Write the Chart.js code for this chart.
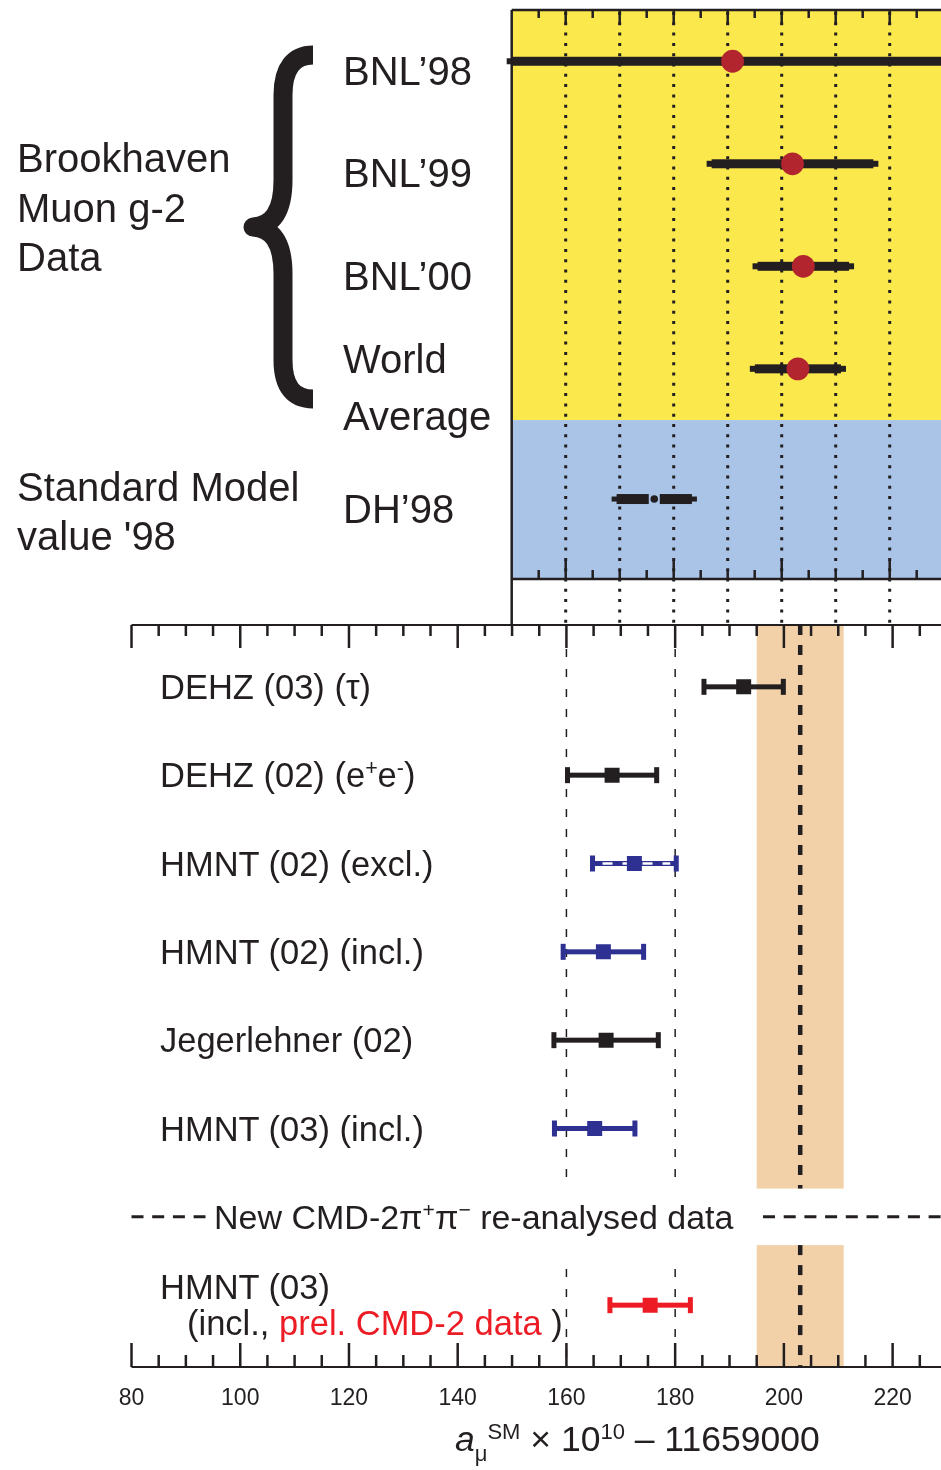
<!DOCTYPE html>
<html>
<head>
<meta charset="utf-8">
<title>Muon g-2: experiment vs. Standard Model</title>
<script src="https://cdn.jsdelivr.net/npm/chart.js@4.4.1/dist/chart.umd.min.js"></script>
<style>
  html, body { margin: 0; padding: 0; background: #fff; }
  #page { position: relative; width: 941px; height: 1470px; overflow: hidden;
          font-family: 'Liberation Sans', Arial, Helvetica, sans-serif; color: #231f20; }
  canvas { position: absolute; left: 0; }
  #topChart { top: 0; }
  #bottomChart { top: 600px; }
  .lbl { position: absolute; white-space: nowrap; }
  .big { font-size: 40px; }
  .row { font-size: 34.5px; line-height: 36px; }
  .red { color: #ed1c24; }
  .ind { padding-left: 27px; }
  .sp { font-size: 62%; position: relative; top: -0.55em; line-height: 0; }
  .sb { font-size: 62%; position: relative; top: 0.45em; line-height: 0; }
</style>
</head>
<body>
<div id="page">
  <canvas id="bottomChart" width="941" height="870"></canvas>
  <canvas id="topChart" width="941" height="630"></canvas>
  <div class="lbl big" style="left:17px; top:134px; line-height:49.5px">Brookhaven<br>Muon g-2<br>Data</div>
  <div class="lbl big" style="left:17px; top:463px; line-height:49px">Standard Model<br>value '98</div>
  <div class="lbl" style="left:455px; top:1419px; font-size:35.5px; line-height:40px"><i>a</i><span class="sb">μ</span><span class="sp">SM</span> × 10<span class="sp">10</span> – 11659000</div>
</div>
<script>
// ---- data: top panel (measurements, a_mu x 1e10 - 11659000)
const topLabels = ['BNL’98', 'BNL’99', 'BNL’00', 'World<br>Average', 'DH’98'];
const topRows = [1, 2, 3, 4, 5.27];
const topValues = [190.9, 202, 204, 203, 176.4];
const topErrors = [59, 15.9, 9.4, 8.9, 7.9];

// ---- data: bottom panel (SM predictions)
const smLabels = [
  'DEHZ (03) (τ)',
  'DEHZ (02) (e<span class="sp">+</span>e<span class="sp">-</span>)',
  'HMNT (02) (excl.)',
  'HMNT (02) (incl.)',
  'Jegerlehner (02)',
  'HMNT (03) (incl.)',
  'HMNT (03)<br><span class="ind">(incl., <span class="red">prel. CMD-2 data</span> )</span>'
];
const smRows = [1, 2, 3, 4, 5, 6, 8];
const smValues = [192.6, 168.4, 172.5, 166.8, 167.3, 165.2, 175.4];
const smErrors = [7.3, 8.2, 7.7, 7.4, 9.6, 7.4, 7.4];

const expValue = 203;   // experimental world average
const expError = 8;
const refLines = [160, 180];
const sepRow = 7;
const sepText = 'New CMD-2π<span class="sp">+</span>π<span class="sp">−</span> re-analysed data';
const xTicks = [80, 100, 120, 140, 160, 180, 200, 220];

// ---- styles
const ink = '#231f20';
const fontFamily = "'Liberation Sans', Arial, Helvetica, sans-serif";
const topSplit = 4.5;             // yellow / blue boundary
const topSmall = [false, false, false, false, true];
const smColors = [ink, ink, '#2e3192', '#2e3192', ink, '#2e3192', '#ed1c24'];
const smStriped = [false, false, true, false, false, false, false];
const joinY = 625;                // where the two panels meet (page px)
const page = document.getElementById('page');

function line(ctx, x1, y1, x2, y2) {
  ctx.beginPath(); ctx.moveTo(x1, y1); ctx.lineTo(x2, y2); ctx.stroke();
}

// ---------------- bottom panel ----------------
const bottomPlugin = {
  id: 'smPanel',
  beforeDatasetsDraw(chart) {
    const { ctx, chartArea: a, scales: { x, y } } = chart;
    const gTop = y.getPixelForValue(sepRow - 0.32);
    const gBot = y.getPixelForValue(sepRow + 0.32);
    const segs = [[a.top, gTop], [gBot, a.bottom]];
    ctx.save();
    // experimental band
    const bl = x.getPixelForValue(expValue - expError);
    const br = x.getPixelForValue(expValue + expError);
    ctx.fillStyle = '#f2d1a9';
    segs.forEach(([t, b]) => ctx.fillRect(bl, t, br - bl, b - t));
    ctx.strokeStyle = ink;
    ctx.lineWidth = 4.5; ctx.setLineDash([10, 10]);
    const ex = x.getPixelForValue(expValue);
    segs.forEach(([t, b]) => line(ctx, ex, t, ex, b));
    // thin reference lines
    ctx.lineWidth = 1.5; ctx.setLineDash([8, 12]);
    refLines.forEach(v => {
      const px = x.getPixelForValue(v);
      segs.forEach(([t, b]) => line(ctx, px, t + 24, px, b));
    });
    // separator dashes
    const sy = y.getPixelForValue(sepRow);
    ctx.lineWidth = 3; ctx.setLineDash([12, 8.7]);
    line(ctx, a.left, sy, a.left + 74, sy);
    line(ctx, 763, sy, a.right, sy);
    ctx.setLineDash([]);
    // error bars
    smValues.forEach((v, i) => {
      const py = y.getPixelForValue(smRows[i]);
      const xl = x.getPixelForValue(v - smErrors[i]);
      const xr = x.getPixelForValue(v + smErrors[i]);
      ctx.fillStyle = smColors[i];
      ctx.fillRect(xl, py - 2.5, xr - xl, 5);
      ctx.fillRect(xl - 2.5, py - 8, 5, 16);
      ctx.fillRect(xr - 2.5, py - 8, 5, 16);
      if (smStriped[i]) {
        ctx.strokeStyle = '#fff'; ctx.lineWidth = 2.5; ctx.setLineDash([10, 10]);
        line(ctx, xl + 10, py, xr - 6, py);
        ctx.setLineDash([]);
      }
    });
    ctx.restore();
  },
  afterDraw(chart) {
    const { ctx, chartArea: a, scales: { x } } = chart;
    ctx.save();
    ctx.strokeStyle = ink;
    ctx.lineWidth = 2;
    line(ctx, a.left, a.top, a.right, a.top);
    line(ctx, a.left, a.bottom, a.right, a.bottom);
    ctx.lineWidth = 2.5;
    for (let v = 80; v <= 225; v += 5) {
      const px = x.getPixelForValue(v);
      const major = v % 20 === 0;
      line(ctx, px, a.top, px, a.top + (major ? 23 : 11));
      line(ctx, px, a.bottom, px, a.bottom - (major ? 24 : 12));
    }
    ctx.restore();
  }
};

const bottomChart = new Chart(document.getElementById('bottomChart'), {
  type: 'scatter',
  data: {
    datasets: [{
      data: smValues.map((v, i) => ({ x: v, y: smRows[i] })),
      pointStyle: 'rect',
      pointRadius: 10.6,
      pointBorderWidth: 0,
      pointBackgroundColor: smColors
    }]
  },
  options: {
    responsive: false,
    animation: false,
    layout: { autoPadding: false, padding: { left: 131.5, right: 0, top: 25, bottom: 57 } },
    plugins: { legend: { display: false }, tooltip: { enabled: false } },
    scales: {
      x: {
        type: 'linear', min: 80, max: 228.9,
        grid: { display: false, drawTicks: false },
        border: { display: false },
        ticks: { padding: 18, color: ink, maxRotation: 0, autoSkip: false,
                 font: { family: fontFamily, size: 23 } },
        afterBuildTicks: s => { s.ticks = xTicks.map(v => ({ value: v })); },
        afterFit: s => { s.height = 46; }
      },
      y: { type: 'linear', min: 0.3, max: 8.7, reverse: true, display: false }
    }
  },
  plugins: [bottomPlugin]
});

// ---------------- top panel ----------------
const topPlugin = {
  id: 'expPanel',
  beforeDatasetsDraw(chart) {
    const { ctx, chartArea: a, scales: { x, y } } = chart;
    const split = y.getPixelForValue(topSplit);
    ctx.save();
    ctx.fillStyle = '#fbe84d';
    ctx.fillRect(a.left, a.top, a.right - a.left, split - a.top);
    ctx.fillStyle = '#a9c4e7';
    ctx.fillRect(a.left, split, a.right - a.left, a.bottom - split);
    // dotted grid
    ctx.strokeStyle = ink; ctx.lineWidth = 3; ctx.setLineDash([3, 7.3]);
    for (let v = 160; v <= 220; v += 10) {
      const px = x.getPixelForValue(v);
      line(ctx, px, a.top + 2, px, joinY);
    }
    ctx.setLineDash([]);
    // error bars
    ctx.fillStyle = ink;
    topValues.forEach((v, i) => {
      const py = y.getPixelForValue(topRows[i]);
      const cx = x.getPixelForValue(v);
      const xl = Math.max(x.getPixelForValue(v - topErrors[i]), a.left - 5);
      const xr = Math.min(x.getPixelForValue(v + topErrors[i]), a.right + 5);
      const th = topSmall[i] ? 10 : 9;
      const tn = topSmall[i] ? 5 : 6;
      ctx.fillRect(xl, py - tn / 2, 6, tn);
      ctx.fillRect(xr - 6, py - tn / 2, 6, tn);
      if (topSmall[i]) {
        ctx.fillRect(xl + 5, py - th / 2, cx - 5.5 - (xl + 5), th);
        ctx.fillRect(cx + 5.5, py - th / 2, xr - 5 - (cx + 5.5), th);
      } else {
        ctx.fillRect(xl + 5, py - th / 2, xr - xl - 10, th);
      }
    });
    ctx.restore();
  },
  afterDraw(chart) {
    const { ctx, chartArea: a, scales: { x } } = chart;
    ctx.save();
    ctx.strokeStyle = ink;
    ctx.lineWidth = 2.5;
    line(ctx, a.left, a.top, a.right, a.top);
    line(ctx, a.left, a.top, a.left, joinY);
    line(ctx, a.left, a.bottom, a.right, a.bottom);
    for (let v = 155; v <= 225; v += 5) {
      const px = x.getPixelForValue(v);
      line(ctx, px, a.top, px, a.top + (v % 10 === 0 ? 15 : 8));
      line(ctx, px, a.bottom, px, a.bottom - (v % 20 === 0 ? 19 : 9));
    }
    // curly brace grouping the Brookhaven rows
    ctx.lineWidth = 19; ctx.lineJoin = 'round'; ctx.lineCap = 'butt';
    ctx.beginPath();
    ctx.moveTo(313, 55);
    ctx.bezierCurveTo(294, 55, 283, 68, 283, 95);
    ctx.lineTo(283, 180);
    ctx.bezierCurveTo(283, 212, 272, 226, 253, 227);
    ctx.bezierCurveTo(272, 228, 283, 242, 283, 274);
    ctx.lineTo(283, 360);
    ctx.bezierCurveTo(283, 387, 294, 399, 313, 399);
    ctx.stroke();
    ctx.restore();
  }
};

const topChart = new Chart(document.getElementById('topChart'), {
  type: 'scatter',
  data: {
    datasets: [{
      data: topValues.map((v, i) => ({ x: v, y: topRows[i] })),
      pointStyle: 'circle',
      pointRadius: topSmall.map(s => s ? 3.8 : 11.4),
      pointBorderWidth: 0,
      pointBackgroundColor: topSmall.map(s => s ? ink : '#b2242e')
    }]
  },
  options: {
    responsive: false,
    animation: false,
    layout: { autoPadding: false, padding: { left: 511.7, right: 0, top: 10, bottom: 51 } },
    plugins: { legend: { display: false }, tooltip: { enabled: false } },
    scales: {
      x: { type: 'linear', min: 150, max: 229.5, display: false },
      y: { type: 'linear', min: 0.5, max: 6.05, reverse: true, display: false }
    }
  },
  plugins: [topPlugin]
});

// ---------------- row labels (HTML text placed from the scales) ----------------
function addLabel(html, cls, left, top, lh) {
  const d = document.createElement('div');
  d.className = 'lbl ' + cls;
  d.style.left = left + 'px';
  d.style.top = top + 'px';
  d.style.lineHeight = lh + 'px';
  d.innerHTML = html;
  page.appendChild(d);
  return d;
}

topLabels.forEach((t, i) => {
  const n = t.split('<br>').length;
  const py = topChart.scales.y.getPixelForValue(topRows[i]);
  addLabel(t, 'big', 343, py + 10 - 28.5 - 19 * (n - 1), 57);
});

const yOff = 600;
smLabels.forEach((t, i) => {
  const n = t.split('<br>').length;
  const py = bottomChart.scales.y.getPixelForValue(smRows[i]) + yOff;
  addLabel(t, 'row', 160, py - 18 * n, 36);
});

const sepY = bottomChart.scales.y.getPixelForValue(sepRow) + yOff;
addLabel(sepText, '', 214, sepY - 20, 40).style.fontSize = '34px';
</script>
</body>
</html>
